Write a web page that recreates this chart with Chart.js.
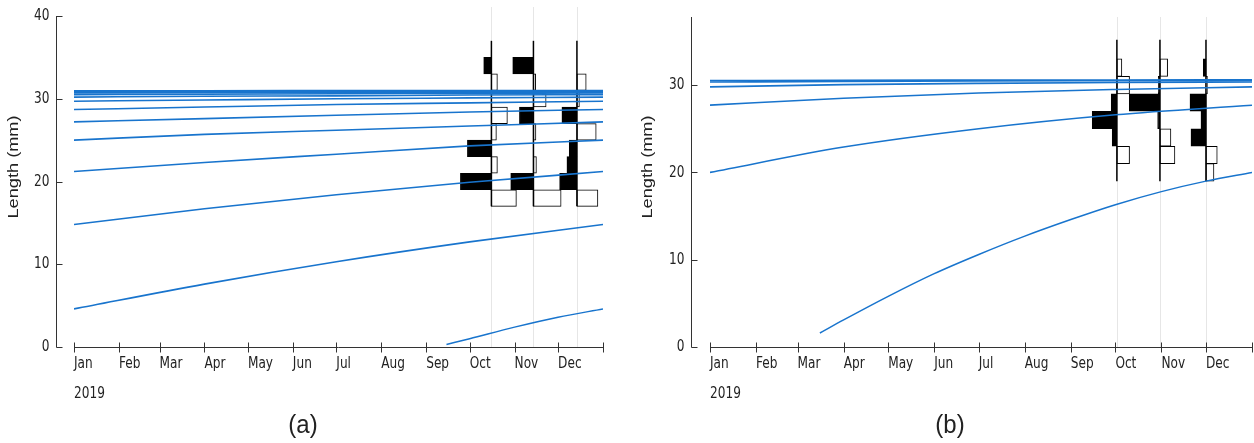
<!DOCTYPE html>
<html>
<head>
<meta charset="utf-8">
<script src="https://cdn.jsdelivr.net/npm/chart.js@4.4.1/dist/chart.umd.min.js"></script>
<style>
  body { margin: 0; background: #fff; }
  .wrap { position: relative; width: 1254px; height: 443px; overflow: hidden; }
  .panel { position: absolute; top: 0; }
</style>
</head>
<body>
<div class="wrap">
  <canvas id="chartA" class="panel" style="left:0" width="620" height="443"></canvas>
  <canvas id="chartB" class="panel" style="left:620px" width="634" height="443"></canvas>
</div>
<script>
// x axis is days since 1 Jan 2019
const monthLabels = ['Jan', 'Feb', 'Mar', 'Apr', 'May', 'Jun', 'Jul', 'Aug', 'Sep', 'Oct', 'Nov', 'Dec'];
const monthStarts = [0, 31, 59, 90, 120, 151, 181, 212, 243, 273, 304, 334, 365];
const yearLabel = '2019';

// (a) growth curves, one row per cohort, read at growthDaysA
const growthDaysA = [0, 90, 181, 273, 365];
const cohortsA = [
  [4.6, 7.6, 10.3, 12.7, 14.8],
  [14.8, 16.7, 18.4, 19.9, 21.2],
  [21.2, 22.3, 23.3, 24.3, 25.0],
  [25.0, 25.7, 26.2, 26.7, 27.2],
  [27.2, 27.6, 28.0, 28.4, 28.7],
  [28.7, 29.0, 29.3, 29.5, 29.7],
  [29.7, 29.85, 30.0, 30.1, 30.2],
  [30.2, 30.3, 30.35, 30.45, 30.5],
  [30.5, 30.55, 30.6, 30.65, 30.7],
  [30.7, 30.73, 30.76, 30.78, 30.8],
  [30.8, 30.82, 30.84, 30.85, 30.85],
  [30.85, 30.87, 30.88, 30.9, 30.9],
  [30.9, 30.92, 30.93, 30.94, 30.95],
  [30.95, 30.97, 30.98, 30.99, 31.0]
];
const recruitDaysA = [257, 273, 304, 334, 365];
const recruitA = [0.3, 1.0, 2.4, 3.6, 4.6];

// (a) length-frequency samples (restructured scores, black > 0)
const binsA = [18, 20, 22, 24, 26, 28, 30, 32, 34, 36];
const sampleDaysA = [288, 317, 347];
const scoresA = [
  [-2.5, 3.1, -0.6, 2.4, -0.5, -1.6, 0, -0.6, 0.77, 0],
  [-2.77, 2.27, -0.3, 0, -0.25, 1.4, -1.27, -0.23, 2.07, 0],
  [-2.1, 1.73, 1.0, 0.77, -1.93, 1.5, -0.25, -0.93, 0, 0]
];
const yTicksA = [0, 10, 20, 30, 40];

// (b)
const growthDaysB = [0, 90, 181, 273, 365];
const cohortsB = [
  [20.0, 22.9, 25.0, 26.6, 27.7],
  [27.7, 28.5, 29.1, 29.5, 29.8],
  [29.8, 30.05, 30.2, 30.3, 30.35],
  [30.35, 30.42, 30.47, 30.5, 30.52],
  [30.52, 30.55, 30.57, 30.58, 30.6]
];
const recruitDaysB = [74, 90, 120, 151, 181, 212, 243, 273, 304, 334, 365];
const recruitB = [1.6, 3.1, 5.8, 8.4, 10.6, 12.7, 14.6, 16.3, 17.8, 19.0, 20.0];

const binsB = [20, 22, 24, 26, 28, 30, 32, 34];
const sampleDaysB = [274, 303, 334];
const scoresB = [
  [0, -1.27, 0.47, 2.47, 0.57, -1.27, -0.5, 0],
  [0, -1.5, -1.1, 0.23, 3.07, 0.17, -0.77, 0],
  [-0.8, -1.13, 1.5, 0.5, 1.6, -0.15, 0.27, 0]
];
const yTicksB = [0, 10, 20, 30];

const lineBlue = '#1874CD';
const tickFont = '13.5px "Liberation Sans Narrow", "DejaVu Sans Condensed", Arial, sans-serif';

function label(ctx, text, px, py, align, sy) {
  ctx.save();
  ctx.translate(px, py);
  ctx.scale(1, sy);
  ctx.textAlign = align;
  ctx.fillText(text, 0, 0);
  ctx.restore();
}

// R-style axes, drawn off the chart's own scales
const rAxes = {
  id: 'rAxes',
  beforeDatasetsDraw(chart, args, o) {
    const { ctx, chartArea, scales: { x } } = chart;
    ctx.save();
    ctx.strokeStyle = '#e6e6e6';
    ctx.lineWidth = 1;
    o.samples.forEach(d => {
      const px = Math.round(x.getPixelForValue(d)) + 0.5;
      ctx.beginPath();
      ctx.moveTo(px, chartArea.top - o.gridExtra);
      ctx.lineTo(px, chartArea.bottom);
      ctx.stroke();
    });
    ctx.restore();
  },
  afterDraw(chart, args, o) {
    const { ctx, scales: { x, y } } = chart;
    const x0 = Math.round(x.left - o.gap) + 0.5;
    const yb = Math.round(y.getPixelForValue(0)) + 0.5;
    ctx.save();
    ctx.strokeStyle = '#333';
    ctx.fillStyle = '#222';
    ctx.lineWidth = 1;
    ctx.beginPath();
    ctx.moveTo(x0, y.top);
    ctx.lineTo(x0, yb);
    o.yTicks.forEach(v => {
      const py = Math.round(y.getPixelForValue(v)) + 0.5;
      ctx.moveTo(x0, py);
      ctx.lineTo(x0 + 6, py);
    });
    ctx.moveTo(x.getPixelForValue(monthStarts[0]), yb);
    ctx.lineTo(x.getPixelForValue(monthStarts[12]), yb);
    monthStarts.forEach(d => {
      const px = Math.round(x.getPixelForValue(d)) + 0.5;
      ctx.moveTo(px, yb - 5);
      ctx.lineTo(px, yb + 5);
    });
    ctx.stroke();

    ctx.font = tickFont;
    ctx.textBaseline = 'middle';
    o.yTicks.forEach(v => label(ctx, String(v), x0 - 7, y.getPixelForValue(v), 'right', 1.2));
    ctx.textBaseline = 'alphabetic';
    monthLabels.forEach((m, i) => label(ctx, m, x.getPixelForValue(monthStarts[i]), yb + 20, 'left', 1.2));
    label(ctx, yearLabel, x.getPixelForValue(monthStarts[0]), yb + 50, 'left', 1.2);

    ctx.save();
    ctx.font = '14px "Liberation Sans", Arial, sans-serif';
    ctx.textAlign = 'center';
    ctx.textBaseline = 'middle';
    ctx.translate(o.titleX, o.titleY);
    ctx.rotate(-Math.PI / 2);
    ctx.scale(1.3, 1);
    ctx.fillText(o.title, 0, 0);
    ctx.restore();

    ctx.font = '24px "Liberation Sans", Arial, sans-serif';
    ctx.textBaseline = 'middle';
    label(ctx, o.panel, o.panelX, 426, 'center', 1.1);
    ctx.restore();
  }
};

function histData(bins, day, scores, k) {
  return bins
    .map((b, i) => ({ b, s: scores[i] }))
    .filter(p => p.s !== 0)
    .map(p => ({ y: p.b, x: p.s > 0 ? [day - p.s * k, day] : [day, day - p.s * k] }));
}

function buildChart(id, p) {
  const datasets = [];
  p.cohorts.forEach(c => {
    datasets.push({
      type: 'line', order: 0,
      data: p.days.map((d, i) => ({ x: d, y: c[i] })),
      borderColor: lineBlue, borderWidth: 1.6, pointRadius: 0,
      cubicInterpolationMode: 'monotone'
    });
  });
  datasets.push({
    type: 'line', order: 0,
    data: p.recruitDays.map((d, i) => ({ x: d, y: p.recruit[i] })),
    borderColor: lineBlue, borderWidth: 1.5, pointRadius: 0,
    cubicInterpolationMode: 'monotone'
  });
  p.samples.forEach((d, j) => {
    datasets.push({
      type: 'line', order: 1,
      data: [{ x: d, y: p.bins[0] - 1 }, { x: d, y: p.lineTop }],
      borderColor: '#000', borderWidth: 1.5, pointRadius: 0
    });
    datasets.push({
      type: 'bar', order: 2, indexAxis: 'y', grouped: false,
      data: histData(p.bins, d, p.scores[j], p.k),
      backgroundColor: ctx => (ctx.raw && ctx.raw.x[0] < d ? '#000' : '#fff'),
      borderColor: '#000', borderWidth: 1, borderSkipped: false,
      barPercentage: 1, categoryPercentage: 1
    });
  });

  return new Chart(document.getElementById(id), {
    type: 'line',
    data: { datasets },
    options: {
      responsive: false,
      animation: false,
      events: [],
      layout: { padding: p.padding },
      scales: {
        x: { type: 'linear', display: false, min: 0, max: 365, offset: false },
        y: { type: 'linear', display: false, min: 0, max: p.yMax, offset: false, ticks: { stepSize: 10 } }
      },
      plugins: {
        legend: { display: false },
        tooltip: { enabled: false },
        rAxes: {
          gap: p.gap, yTicks: p.yTicks, samples: p.samples, gridExtra: p.gridExtra,
          title: 'Length (mm)', titleX: p.titleX, titleY: 167, panel: p.panel, panelX: p.panelX
        }
      }
    },
    plugins: [rAxes]
  });
}

buildChart('chartA', {
  cohorts: cohortsA, days: growthDaysA, recruit: recruitA, recruitDays: recruitDaysA,
  bins: binsA, samples: sampleDaysA, scores: scoresA, lineTop: 37, k: 6.9,
  yMax: 40, yTicks: yTicksA,
  padding: { left: 74, right: 17, top: 16, bottom: 96 },
  gap: 18, gridExtra: 9, titleX: 14, panel: '(a)', panelX: 303
});

buildChart('chartB', {
  cohorts: cohortsB, days: growthDaysB, recruit: recruitB, recruitDays: recruitDaysB,
  bins: binsB, samples: sampleDaysB, scores: scoresB, lineTop: 35.2, k: 6.73,
  yMax: 37.8, yTicks: yTicksB,
  padding: { left: 90, right: 2, top: 17, bottom: 96 },
  gap: 19, gridExtra: 0, titleX: 28, panel: '(b)', panelX: 330
});
</script>
</body>
</html>
